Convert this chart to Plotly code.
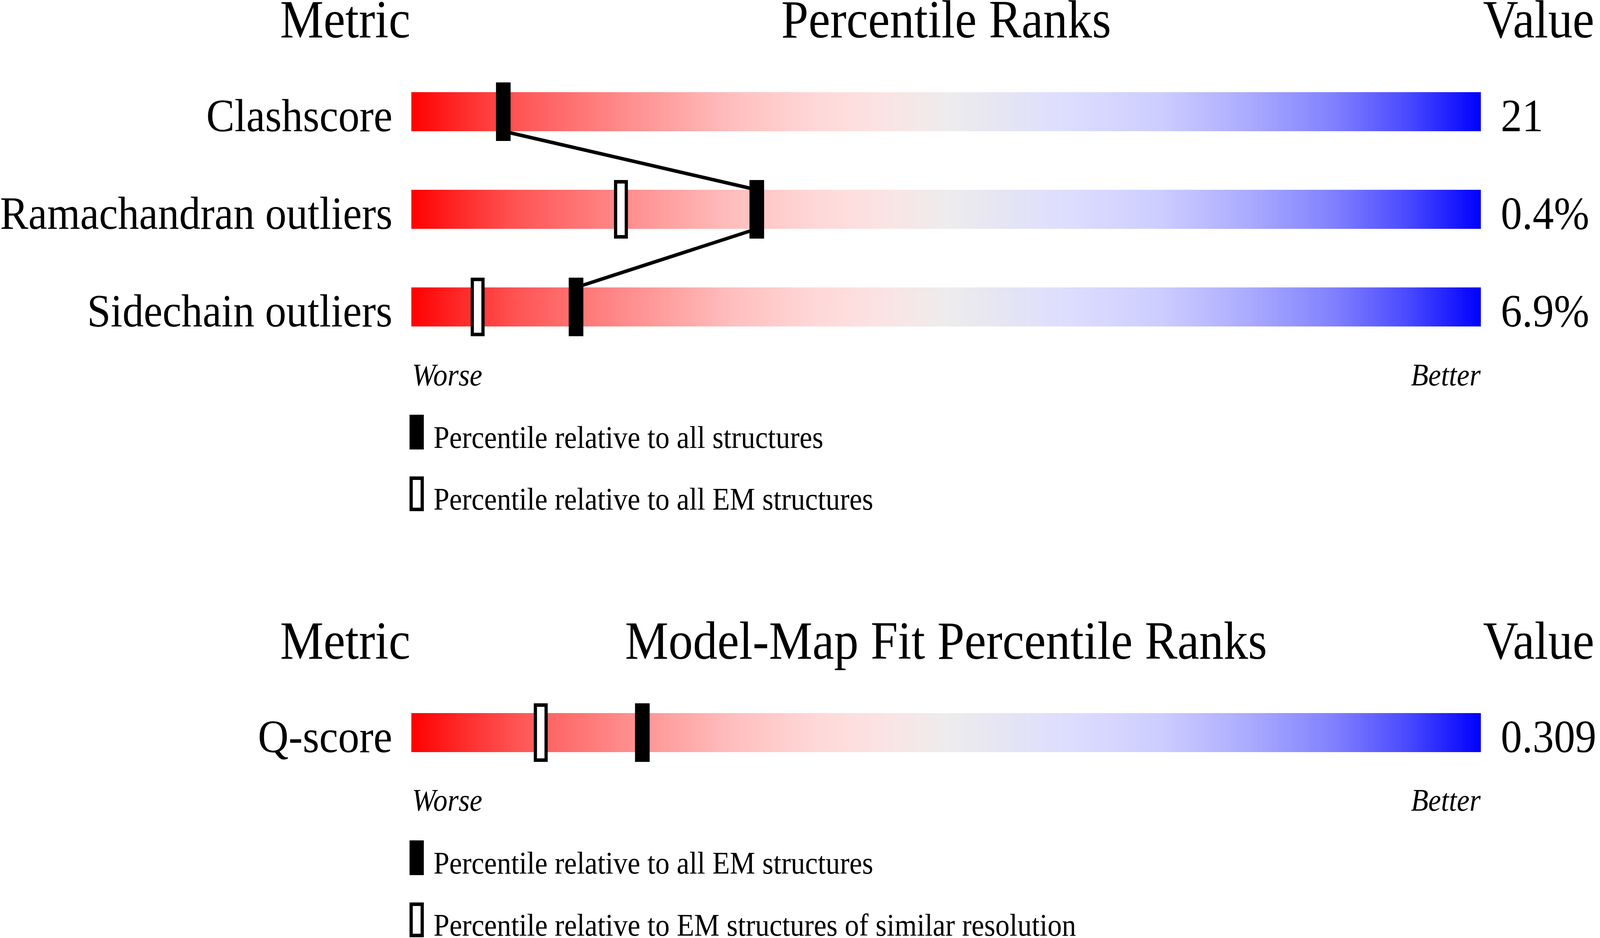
import numpy as np
import plotly.graph_objects as go

W, H = 4485, 2402
FONT = "Liberation Serif"

# ---------------- data ----------------
metrics = ["Clashscore", "Ramachandran outliers", "Sidechain outliers"]
metric_values = ["21", "0.4%", "6.9%"]
pct_all = [8.6, 32.3, 15.4]          # percentile relative to all structures
pct_all_em = [None, 19.6, 6.2]       # percentile relative to all EM structures

fit_metrics = ["Q-score"]
fit_values = ["0.309"]
fit_pct_em = [21.6]                  # percentile relative to all EM structures
fit_pct_res = [12.1]                 # percentile relative to EM structures of similar resolution

titles_top = ["Metric", "Percentile Ranks", "Value"]
titles_bottom = ["Metric", "Model-Map Fit Percentile Ranks", "Value"]
scale_labels = ["Worse", "Better"]
legend_top = ["Percentile relative to all structures",
              "Percentile relative to all EM structures"]
legend_bottom = ["Percentile relative to all EM structures",
                 "Percentile relative to EM structures of similar resolution"]

# ---------------- layout constants (pixels of the 4485x2402 design) ----------------
BAR_L, BAR_R = 1153, 4151
ROW0_PX, ROW_STEP = 286, 250
Q_ROW_PX = 1876
BAR_H_PX, MARK_H_PX = 100, 150
MARK_W_PX, HOL_W_PX, HOL_LW = 41, 30, 9
LINE_W = 9
FS_TITLE, FS_LABEL, FS_SMALL = 137, 119, 80

def units_y(px):
    return (px - ROW0_PX) / ROW_STEP

def units_x(px):
    return px / (BAR_R - BAR_L) * 100

bar_half = BAR_H_PX / 2 / ROW_STEP
mark_h = MARK_H_PX / ROW_STEP
hol_h = (MARK_H_PX - HOL_LW) / ROW_STEP
q_row = units_y(Q_ROW_PX)

colorscale = [
    [0.00, "rgb(255,0,0)"],
    [0.05, "rgb(255,45,45)"],
    [0.10, "rgb(255,85,85)"],
    [0.20, "rgb(255,140,140)"],
    [0.30, "rgb(255,190,190)"],
    [0.38, "rgb(255,216,216)"],
    [0.44, "rgb(251,227,227)"],
    [0.50, "rgb(238,236,236)"],
    [0.56, "rgb(228,228,245)"],
    [0.62, "rgb(220,220,255)"],
    [0.70, "rgb(205,205,255)"],
    [0.78, "rgb(172,172,255)"],
    [0.86, "rgb(130,130,255)"],
    [0.93, "rgb(75,75,255)"],
    [1.00, "rgb(0,0,255)"],
]

fig = go.Figure()

x_edges = np.linspace(0, 100, 601)
z_row = [list((x_edges[:-1] + x_edges[1:]) / 2)]

rows = list(range(len(metrics))) + [q_row]
for r in rows:
    fig.add_trace(go.Heatmap(
        x=x_edges, y=[r - bar_half, r + bar_half], z=z_row,
        zmin=0, zmax=100, colorscale=colorscale, showscale=False,
        hoverinfo="skip"))

# connecting line between "all structures" markers
lx, ly = [], []
for i in range(len(pct_all) - 1):
    lx += [pct_all[i], pct_all[i + 1]]
    ly += [i + bar_half, i + 1 - bar_half]
fig.add_trace(go.Scatter(x=lx, y=ly, mode="lines",
                         line=dict(color="black", width=LINE_W),
                         hoverinfo="skip"))

def solid_markers(xs, ys):
    fig.add_trace(go.Bar(
        x=xs, y=[mark_h] * len(xs), base=[y - mark_h / 2 for y in ys],
        width=[units_x(MARK_W_PX)] * len(xs),
        marker=dict(color="black", line=dict(width=0)), hoverinfo="skip"))

def hollow_markers(xs, ys):
    fig.add_trace(go.Bar(
        x=xs, y=[hol_h] * len(xs), base=[y - hol_h / 2 for y in ys],
        width=[units_x(HOL_W_PX)] * len(xs),
        marker=dict(color="white", line=dict(width=HOL_LW, color="black")),
        hoverinfo="skip"))

hx = [p for p in pct_all_em if p is not None]
hy = [i for i, p in enumerate(pct_all_em) if p is not None]
hollow_markers(hx, hy)
solid_markers(pct_all, list(range(len(pct_all))))

hollow_markers(fit_pct_res, [q_row] * len(fit_pct_res))
solid_markers(fit_pct_em, [q_row] * len(fit_pct_em))

# ---------------- text ----------------
annotations = []

def ann(text, x_px, baseline_px, fs, anchor, italic=False):
    yc = baseline_px - 0.3375 * fs
    annotations.append(dict(
        text=f"<i>{text}</i>" if italic else text,
        x=x_px / W, y=1 - yc / H, xref="paper", yref="paper",
        xanchor=anchor, yanchor="middle", showarrow=False,
        font=dict(family=FONT, size=fs, color="black")))

BAR_C = (BAR_L + BAR_R) / 2
for titles, base in [(titles_top, 96), (titles_bottom, 1687)]:
    ann(titles[0], 1152, base, FS_TITLE, "right")
    ann(titles[1], BAR_C, base, FS_TITLE, "center")
    ann(titles[2], 4155, base, FS_TITLE, "left")

for i, (m, v) in enumerate(zip(metrics, metric_values)):
    base = ROW0_PX + i * ROW_STEP + BAR_H_PX / 2
    ann(m, 1102, base, FS_LABEL, "right")
    ann(v, 4205, base, FS_LABEL, "left")
for m, v in zip(fit_metrics, fit_values):
    base = Q_ROW_PX + BAR_H_PX / 2
    ann(m, 1102, base, FS_LABEL, "right")
    ann(v, 4205, base, FS_LABEL, "left")

for base in [987, 2076]:
    ann(scale_labels[0], BAR_L, base, FS_SMALL, "left", italic=True)
    ann(scale_labels[1], BAR_R + 2, base, FS_SMALL, "right", italic=True)

shapes = []
def legend(items, tops):
    for k, (txt, top) in enumerate(zip(items, tops)):
        bottom = top + 89
        if k == 0:
            shapes.append(dict(type="rect", xref="paper", yref="paper",
                               x0=1148 / W, x1=1188 / W,
                               y0=1 - top / H, y1=1 - bottom / H,
                               fillcolor="black", line=dict(width=0)))
        else:
            s = HOL_LW / 2
            shapes.append(dict(type="rect", xref="paper", yref="paper",
                               x0=(1148 + s) / W, x1=(1188 - s) / W,
                               y0=1 - (top + s) / H, y1=1 - (bottom - s) / H,
                               fillcolor="white",
                               line=dict(width=HOL_LW, color="black")))
        ann(txt, 1213, bottom - 4, FS_SMALL, "left")

legend(legend_top, [1062, 1220])
legend(legend_bottom, [2152, 2311])

fig.update_layout(
    width=W, height=H,
    margin=dict(l=0, r=0, t=0, b=0, pad=0),
    paper_bgcolor="white", plot_bgcolor="white",
    showlegend=False, barmode="overlay", hovermode=False,
    xaxis=dict(domain=[BAR_L / W, BAR_R / W], range=[0, 100],
               visible=False, fixedrange=True),
    yaxis=dict(domain=[0, 1], range=[units_y(H), units_y(0)],
               visible=False, fixedrange=True),
    annotations=annotations, shapes=shapes,
)

# fit the 4485x2402 design into the real browser viewport (which may be
# smaller than requested), filling it exactly
post_script = (
    "var gd = document.getElementById('{plot_id}');"
    "var iw = window.innerWidth, ih = window.innerHeight;"
    "var sx = iw/" + str(W) + ", sy = ih/" + str(H) + ";"
    "var de = document.documentElement, b = document.body;"
    "de.style.background='white'; b.style.background='white';"
    "de.style.overflow='hidden'; de.style.margin='0'; de.style.padding='0';"
    "b.style.overflow='hidden'; b.style.margin='0'; b.style.padding='0';"
    "var wrap = gd.parentElement;"
    "wrap.style.width=iw+'px'; wrap.style.height=ih+'px'; wrap.style.overflow='hidden';"
    "gd.style.transformOrigin='0 0';"
    "gd.style.transform='scale(' + sx + ',' + sy + ')';"
)

fig.write_html("out.html", config={"displayModeBar": False},
               post_script=post_script)
